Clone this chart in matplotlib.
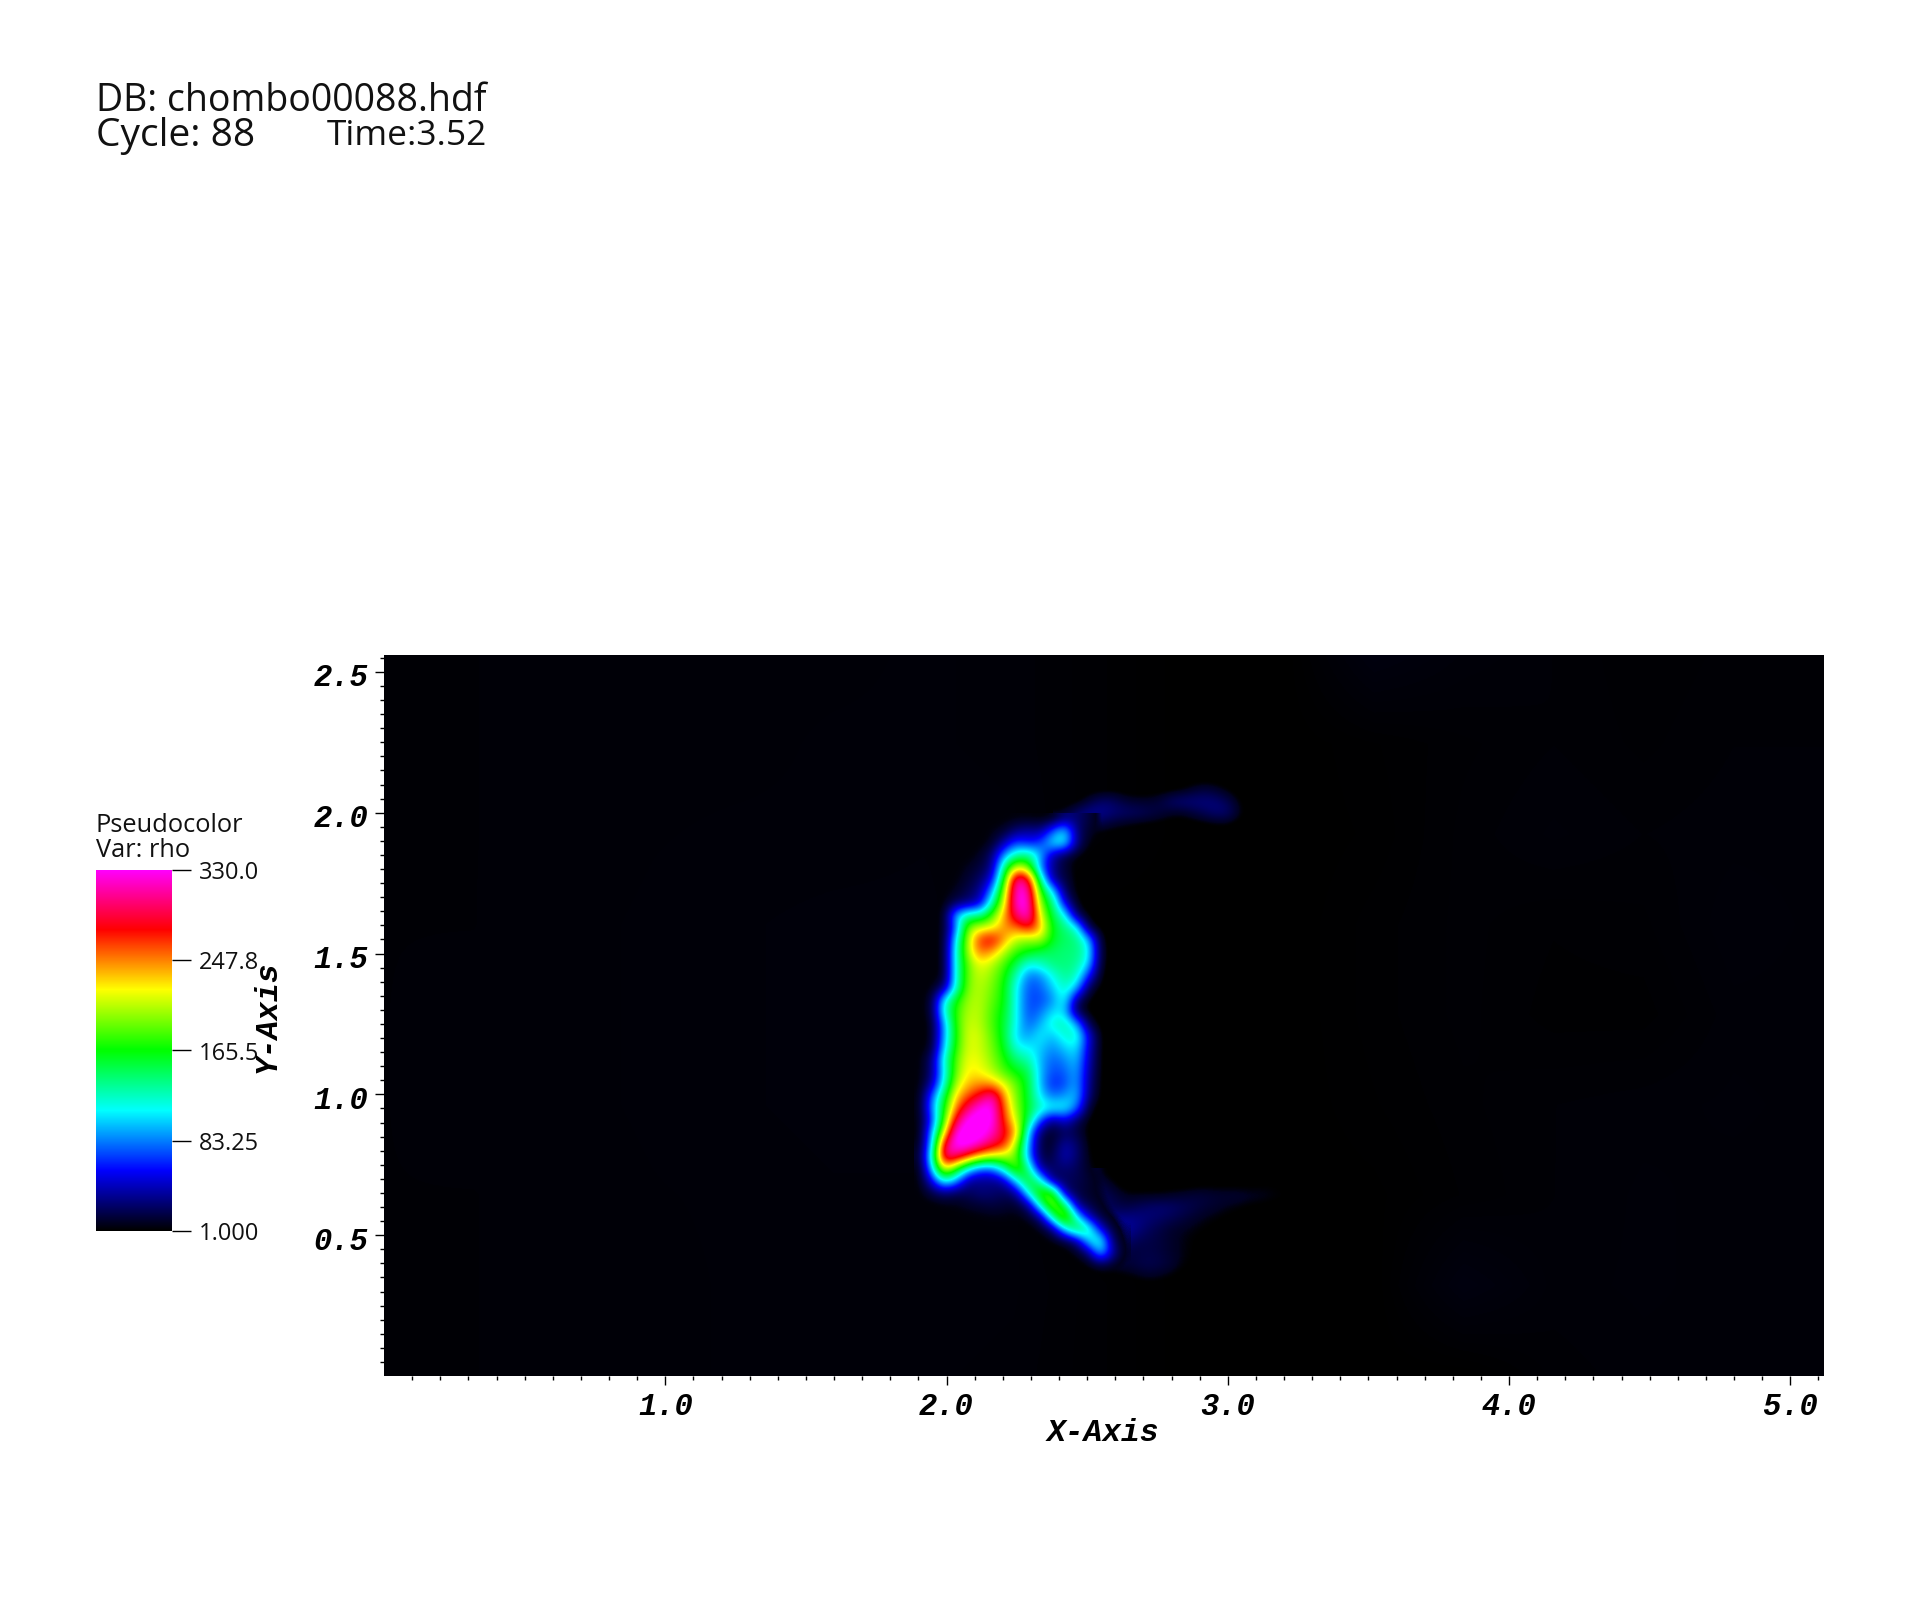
import numpy as np
import matplotlib
matplotlib.use("Agg")
import matplotlib.pyplot as plt
from matplotlib.colors import LinearSegmentedColormap, ListedColormap
from matplotlib.transforms import ScaledTranslation

# colour table stops
color_values = [0.0, 1/6, 2/6, 3/6, 4/6, 5/6, 1.0]
color_names = ["#000000", "#0000ff", "#00ffff", "#00ff00", "#ffff00", "#ff0000", "#ff00ff"]
legend_ticks = [330.0, 247.8, 165.5, 83.25, 1.0]
legend_labels = ["330.0", "247.8", "165.5", "83.25", "1.000"]
x_ticks = [1.0, 2.0, 3.0, 4.0, 5.0]
y_ticks = [0.5, 1.0, 1.5, 2.0, 2.5]

# faint background, rows go from bottom to top, step 0.32
rho_background = [
    [2.6, 2.6, 2.7, 2.8, 3.0, 3.0, 3.0, 2.8, 2.0, 1.0, 1.0, 1.0, 1.0, 2.4, 2.8, 2.8, 2.8],
    [2.6, 2.6, 2.7, 2.8, 3.0, 3.0, 3.2, 3.0, 2.0, 1.0, 1.0, 1.0, 4.5, 2.8, 3.0, 2.8, 2.8],
    [2.6, 2.6, 2.7, 2.9, 3.0, 3.2, 3.2, 3.0, 1.2, 1.0, 1.0, 1.2, 2.0, 2.6, 3.0, 2.8, 2.8],
    [2.6, 2.7, 2.8, 3.0, 3.2, 3.4, 3.4, 2.6, 1.0, 1.0, 1.0, 1.6, 2.2, 2.6, 2.8, 3.0, 2.8],
    [2.6, 2.7, 2.8, 3.0, 3.2, 3.4, 3.4, 2.4, 1.0, 1.0, 1.0, 1.8, 2.4, 1.8, 1.8, 2.8, 2.8],
    [2.6, 2.6, 2.8, 3.0, 3.2, 3.4, 3.4, 2.6, 1.0, 1.0, 1.0, 1.8, 2.4, 2.0, 2.2, 3.2, 2.8],
    [2.6, 2.6, 2.7, 2.9, 3.0, 3.0, 3.2, 3.0, 2.0, 1.0, 1.0, 1.4, 2.4, 3.0, 2.6, 2.8, 2.8],
    [2.6, 2.6, 2.7, 2.8, 2.8, 3.0, 3.0, 2.8, 2.0, 1.0, 1.0, 1.6, 2.2, 2.6, 2.2, 2.6, 2.6],
    [2.6, 2.6, 2.7, 2.8, 2.8, 2.8, 3.0, 2.8, 2.0, 1.0, 1.0, 4.5, 3.2, 2.6, 2.0, 2.4, 2.6],
]

# shock region, rows from top (y=1.9744) to bottom, columns from x=1.9075, step 12/281
rho_shock = [
    [4, 4, 4, 4, 4, 4, 4, 4, 5, 5, 4, 4, 25, 25, 15, 3, 1, 1],
    [4, 4, 4, 4, 4, 4, 6, 10, 28, 35, 30, 75, 110, 25, 10, 5, 2, 1],
    [4, 4, 4, 4, 4, 4, 8, 38, 72, 58, 70, 110, 115, 30, 5, 2, 1, 1],
    [4, 4, 4, 4, 4, 8, 25, 90, 130, 140, 95, 35, 15, 5, 1, 1, 1, 1],
    [4, 4, 4, 4, 8, 14, 30, 140, 215, 190, 80, 30, 12, 2, 1, 1, 1, 1],
    [4, 4, 4, 5, 12, 22, 50, 170, 320, 290, 130, 30, 15, 3, 1, 1, 1, 1],
    [4, 4, 4, 8, 18, 32, 90, 200, 330, 320, 170, 110, 20, 3, 1, 1, 1, 1],
    [4, 4, 4, 20, 28, 45, 130, 215, 330, 330, 190, 145, 50, 5, 1, 1, 1, 1],
    [4, 4, 4, 100, 135, 135, 180, 240, 300, 330, 215, 150, 120, 20, 2, 1, 1, 1],
    [4, 4, 5, 80, 195, 210, 215, 245, 250, 280, 240, 160, 140, 120, 10, 1, 1, 1],
    [4, 4, 5, 110, 205, 270, 285, 240, 205, 195, 205, 160, 145, 140, 100, 5, 1, 1],
    [4, 4, 5, 120, 205, 255, 240, 205, 175, 165, 150, 145, 140, 140, 115, 8, 1, 1],
    [4, 4, 5, 120, 190, 220, 205, 180, 150, 115, 125, 140, 140, 135, 105, 6, 1, 1],
    [4, 4, 5, 120, 190, 210, 195, 170, 125, 80, 85, 115, 135, 125, 60, 3, 1, 1],
    [4, 4, 25, 120, 195, 205, 190, 165, 110, 72, 75, 100, 125, 100, 15, 2, 1, 1],
    [4, 10, 110, 165, 200, 205, 185, 165, 110, 70, 70, 85, 120, 25, 3, 1, 1, 1],
    [4, 10, 120, 175, 205, 205, 180, 160, 110, 70, 80, 105, 105, 15, 2, 1, 1, 1],
    [4, 5, 90, 175, 210, 205, 180, 155, 110, 75, 95, 120, 130, 95, 15, 1, 1, 1],
    [4, 5, 90, 170, 215, 210, 185, 155, 100, 90, 110, 95, 120, 125, 50, 2, 1, 1],
    [4, 8, 100, 175, 215, 210, 190, 160, 115, 110, 100, 85, 100, 110, 45, 2, 1, 1],
    [4, 25, 120, 185, 220, 215, 195, 170, 140, 130, 95, 75, 85, 100, 40, 2, 1, 1],
    [4, 25, 110, 190, 225, 220, 205, 180, 165, 150, 95, 70, 75, 95, 35, 2, 1, 1],
    [4, 35, 120, 205, 235, 245, 240, 215, 185, 155, 95, 60, 70, 95, 30, 2, 1, 1],
    [4, 75, 150, 230, 260, 285, 320, 240, 190, 155, 105, 80, 90, 100, 25, 2, 1, 1],
    [4, 85, 165, 250, 300, 335, 335, 255, 195, 155, 125, 115, 115, 80, 8, 1, 1, 1],
    [4, 65, 180, 290, 340, 340, 335, 265, 210, 145, 70, 25, 50, 20, 3, 1, 1, 1],
    [2, 90, 215, 335, 340, 340, 320, 280, 240, 100, 20, 8, 20, 15, 2, 1, 1, 1],
    [4, 100, 290, 340, 340, 320, 290, 270, 200, 90, 12, 10, 38, 25, 3, 1, 1, 1],
    [8, 120, 310, 300, 265, 225, 210, 205, 190, 85, 15, 15, 42, 25, 5, 1, 1, 1],
    [3, 100, 230, 175, 110, 75, 75, 130, 195, 135, 30, 22, 25, 20, 8, 2, 1, 1],
    [4, 50, 125, 90, 32, 30, 30, 38, 110, 170, 120, 22, 20, 18, 12, 5, 1, 1],
    [4, 15, 25, 18, 20, 28, 25, 20, 30, 120, 190, 180, 30, 15, 10, 6, 2, 1],
    [4, 3, 5, 6, 10, 12, 15, 12, 10, 30, 130, 210, 150, 30, 15, 8, 3, 1],
    [4, 4, 4, 4, 4, 5, 6, 6, 5, 8, 30, 135, 215, 110, 40, 12, 6, 3],
    [4, 4, 4, 4, 4, 4, 4, 4, 4, 3, 5, 25, 110, 165, 130, 45, 10, 5],
    [4, 4, 4, 4, 4, 4, 4, 4, 4, 4, 4, 3, 8, 30, 110, 125, 20, 5],
    [4, 4, 4, 4, 4, 4, 4, 4, 4, 4, 4, 4, 3, 5, 25, 105, 35, 5],
    [4, 4, 4, 4, 4, 4, 4, 4, 4, 4, 4, 4, 4, 3, 3, 10, 8, 3],
    [4, 4, 4, 4, 4, 4, 4, 4, 4, 4, 4, 4, 4, 4, 3, 3, 3, 2],
]

# upper tail, rows from y=2.12 down, columns from x=2.40, step 0.04
rho_upper_tail = [
    [1, 1, 1, 1, 1, 1, 1, 1, 1, 1, 1, 1, 1, 1, 1, 1, 1, 1],
    [1, 1, 1, 1, 2, 2, 1, 1, 1, 1, 2, 4, 10, 14, 10, 4, 1, 1],
    [1, 1, 4, 16, 24, 20, 12, 10, 10, 14, 24, 28, 28, 28, 26, 18, 5, 1],
    [5, 14, 28, 34, 32, 26, 24, 22, 18, 14, 9, 8, 14, 20, 26, 24, 8, 1],
    [28, 34, 28, 18, 14, 9, 6, 4, 3, 2, 1, 1, 1, 2, 4, 4, 1, 1],
    [35, 24, 8, 2, 1, 1, 1, 1, 1, 1, 1, 1, 1, 1, 1, 1, 1, 1],
]

# lower tail, rows from y=0.72 down, columns from x=2.52, step 0.04
rho_lower_tail = [
    [15, 5, 1, 1, 1, 1, 1, 1, 1, 1, 1, 1, 1, 1, 1, 1, 1, 1, 1, 1],
    [15, 15, 6, 1, 1, 1, 1, 1, 1, 2, 3, 3, 3, 3, 3, 4, 4, 3, 2, 1],
    [15, 20, 15, 8, 8, 8, 8, 10, 12, 14, 14, 12, 12, 12, 10, 9, 7, 5, 3, 1],
    [20, 20, 18, 16, 20, 24, 26, 24, 20, 16, 12, 10, 7, 5, 3, 2, 1, 1, 1, 1],
    [20, 22, 30, 32, 30, 26, 22, 18, 14, 10, 7, 5, 3, 2, 1, 1, 1, 1, 1, 1],
    [20, 25, 35, 35, 28, 20, 15, 10, 8, 6, 4, 2, 1, 1, 1, 1, 1, 1, 1, 1],
    [15, 25, 35, 24, 18, 16, 14, 10, 7, 4, 2, 1, 1, 1, 1, 1, 1, 1, 1, 1],
    [15, 25, 28, 14, 14, 16, 14, 10, 7, 4, 2, 1, 1, 1, 1, 1, 1, 1, 1, 1],
    [6, 10, 12, 12, 16, 18, 16, 12, 6, 3, 1, 1, 1, 1, 1, 1, 1, 1, 1, 1],
    [1, 2, 3, 5, 7, 10, 8, 5, 2, 1, 1, 1, 1, 1, 1, 1, 1, 1, 1, 1],
    [1, 1, 1, 1, 1, 1, 1, 1, 1, 1, 1, 1, 1, 1, 1, 1, 1, 1, 1, 1],
]

rho_min = 1.0
rho_max = 330.0
x_max = 5.12
y_max = 2.56
width = 1920
height = 1619

hot = LinearSegmentedColormap.from_list("visit_hot", list(zip(color_values, color_names)), N=1024)

# same colours but see through near the bottom, so the patches blend into the background
hot_rgba = hot(np.linspace(0, 1, 1024))
levels = np.linspace(rho_min, rho_max, 1024)
hot_rgba[:, 3] = np.clip((levels - 4.0) / 4.0, 0, 1)
hot_fade = ListedColormap(hot_rgba)

fig = plt.figure(figsize=(width / 100, height / 100), dpi=100, facecolor="white")
ax = fig.add_axes([384 / width, 1 - 1376 / height, (1824 - 384) / width, (1376 - 655) / height])


def patch(values, x0, y_top, step, cmap, interp):
    values = np.array(values, dtype=float)
    rows, cols = values.shape
    ax.imshow(values, cmap=cmap, vmin=rho_min, vmax=rho_max, interpolation=interp,
              extent=[x0 - step / 2, x0 + (cols - 0.5) * step, y_top - (rows - 0.5) * step, y_top + step / 2],
              aspect="auto", origin="upper")


patch(rho_background[::-1], 0.0, 2.56, 0.32, hot, "bilinear")
patch(rho_upper_tail, 2.40, 2.12, 0.04, hot_fade, "bicubic")
patch(rho_lower_tail, 2.52, 0.72, 0.04, hot_fade, "bicubic")
patch(rho_shock, 1.9075, 1.9744, 12 / 281, hot_fade, "bicubic")

ax.set_xlim(0, x_max)
ax.set_ylim(0, y_max)
for side in ax.spines.values():
    side.set_visible(False)

mono = {"family": "Liberation Mono", "weight": "bold", "style": "italic"}
ax.set_xticks(x_ticks)
ax.set_yticks(y_ticks)
ax.set_xticks(np.arange(1, 52) / 10, minor=True)
ax.set_yticks(np.arange(1, 52) / 20, minor=True)
ax.set_xticklabels(["%.1f" % t for t in x_ticks], fontsize=22, **mono)
ax.set_yticklabels(["%.1f" % t for t in y_ticks], fontsize=22, **mono)
ax.tick_params(which="major", length=6.5, width=1, color="black", pad=5)
ax.tick_params(which="minor", length=3, width=1, color="black")
ax.tick_params(axis="y", which="major", pad=5)
for label in ax.get_yticklabels():
    label.set_transform(label.get_transform() + ScaledTranslation(0, -0.03, fig.dpi_scale_trans))

fig.text(1103 / width, 1 - 1433 / height, "X-Axis", ha="center", va="center", fontsize=22.5, **mono)
fig.text(268 / width, 1 - 1017 / height, "Y-Axis", ha="center", va="center", rotation=90, fontsize=22.5, **mono)

# time and database text
sans = "Open Sans"
fig.text(96 / width, 1 - 101 / height, "DB: chombo00088.hdf", ha="left", va="center", fontsize=27, family=sans, color="#111111")
fig.text(96 / width, 1 - 136 / height, "Cycle: 88", ha="left", va="center", fontsize=28, family=sans, color="#111111")
fig.text(327 / width, 1 - 136 / height, "Time:3.52", ha="left", va="center", fontsize=25.5, family=sans, color="#111111")

# legend
fig.text(96 / width, 1 - 825 / height, "Pseudocolor", ha="left", va="center", fontsize=18.3, family=sans, color="#111111")
fig.text(96 / width, 1 - 850 / height, "Var: rho", ha="left", va="center", fontsize=18.3, family=sans, color="#111111")
cax = fig.add_axes([96 / width, 1 - 1231 / height, 76 / width, 361 / height])
bar_levels = np.linspace(rho_max, rho_min, 361).reshape(-1, 1)
cax.imshow(bar_levels, cmap=hot, vmin=rho_min, vmax=rho_max, aspect="auto",
           extent=[0, 1, rho_min, rho_max], interpolation="nearest")
cax.set_xticks([])
cax.yaxis.tick_right()
cax.set_yticks(legend_ticks)
cax.set_yticklabels(legend_labels, fontsize=17, family=sans, color="#111111", ha="right")
cax.tick_params(axis="y", length=13.5, width=1, pad=49)
for side in cax.spines.values():
    side.set_visible(False)

fig.savefig("out.png", dpi=100, facecolor="white")
